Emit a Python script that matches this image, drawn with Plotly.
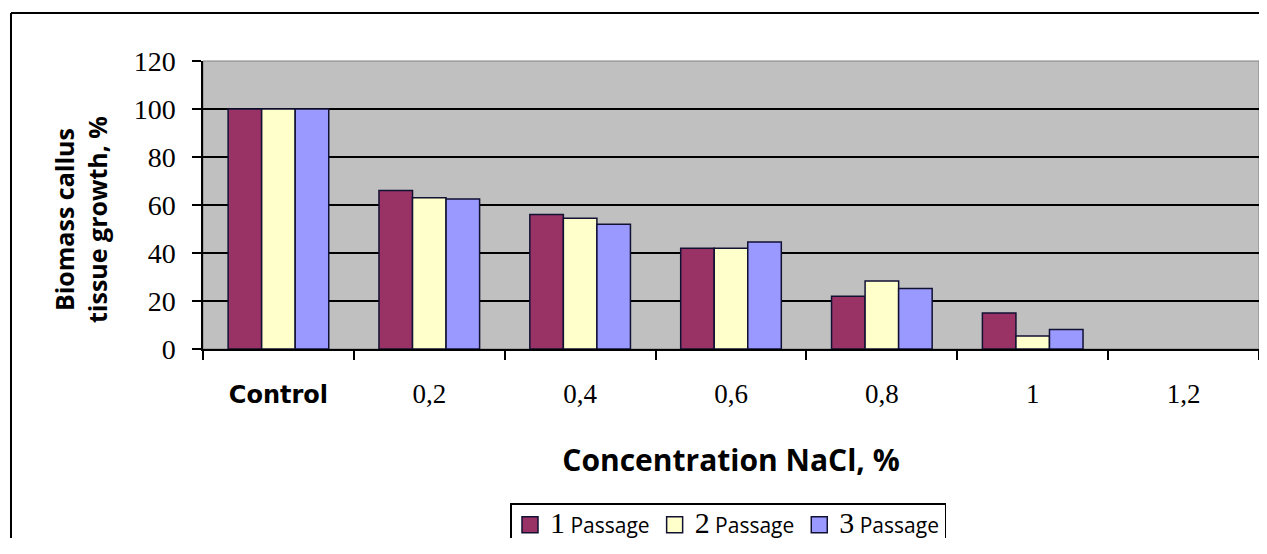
import plotly.graph_objects as go

categories = ["Control", "0,2", "0,4", "0,6", "0,8", "1", "1,2"]
tick_labels = ["<span style=\"font-family:DejaVu Sans;font-size:24px\"><b>Control</b></span>",
               "0,2", "0,4", "0,6", "0,8", "1", "1,2"]
passage1 = [100, 66, 56, 42, 22, 15, None]
passage2 = [100, 63, 54.5, 42, 28.3, 5.4, None]
passage3 = [100, 62.5, 52, 44.6, 25.2, 8.1, None]
series_names = ["1", "2", "3"]
colors = ["#993366", "#FFFFCC", "#9999FF"]
OUTLINE = "#111133"

SERIF = "Liberation Serif"
SANS = "Open Sans"

# figure geometry (the page adds an 8px body margin around the figure)
W, H = 1251, 530
L, T, R = 195, 53, 0
PLOT_BOTTOM = 341
B = H - PLOT_BOTTOM
PW, PH = W - L - R, H - T - B


def px(x):
    return (x - L) / PW


def py(y):
    return (PLOT_BOTTOM - y) / PH


fig = go.Figure()
for name, vals, col in zip(series_names, [passage1, passage2, passage3], colors):
    label = f"<span style=\"font-family:{SERIF};font-size:30px\">{name}</span> Passage"
    fig.add_trace(go.Bar(
        x=categories, y=vals, name=label, legendgroup=name, showlegend=False,
        marker=dict(color=col, line=dict(color=OUTLINE, width=1.5)),
    ))
    # legend entry with a larger square swatch
    fig.add_trace(go.Scatter(
        x=[categories[0]], y=[None], mode="markers", name=label, legendgroup=name,
        marker=dict(symbol="square", size=16, color=col, line=dict(color=OUTLINE, width=1.5)),
        hoverinfo="skip",
    ))

fig.update_layout(
    width=W, height=H,
    margin=dict(l=L, t=T, r=R, b=B, autoexpand=False),
    paper_bgcolor="white",
    plot_bgcolor="#C0C0C0",
    barmode="group", bargap=0.333, bargroupgap=0,
    showlegend=True,
    legend=dict(
        orientation="h", x=px(502), xanchor="left", y=py(495), yanchor="top",
        bordercolor="black", borderwidth=1.5, bgcolor="white",
        font=dict(family=SANS, size=21, color="black"),
        itemwidth=30, tracegroupgap=0, itemsizing="trace",
    ),
    xaxis=dict(
        type="category", categoryorder="array", categoryarray=categories,
        range=[-0.5, 6.5], automargin=False,
        tickvals=categories, ticktext=tick_labels,
        tickson="boundaries", ticks="outside", ticklen=9, tickwidth=1.5, tickcolor="black",
        showline=True, linecolor="black", linewidth=1.5,
        showgrid=False,
        tickfont=dict(family=SERIF, size=27, color="black"),
        ticklabelstandoff=20,
        title=dict(text="<b>Concentration NaCl, %</b>",
                   font=dict(family=SANS, size=30, color="black"), standoff=42),
        fixedrange=True,
    ),
    yaxis=dict(
        range=[0, 120], tickvals=[0, 20, 40, 60, 80, 100, 120], automargin=False,
        ticks="outside", ticklen=9, tickwidth=1.5, tickcolor="black",
        showline=True, linecolor="black", linewidth=1.5,
        showgrid=True, gridcolor="black", gridwidth=1.5,
        zeroline=False,
        tickfont=dict(family=SERIF, size=28, color="black"),
        ticklabelstandoff=11,
        fixedrange=True,
    ),
    annotations=[dict(
        text="<b>Biomass callus<br>tissue growth, %</b>",
        xref="paper", yref="paper", x=px(73), y=py(212),
        xanchor="center", yanchor="middle", textangle=-90, showarrow=False,
        font=dict(family=SANS, size=25, color="black"),
    )],
    shapes=[
        dict(type="rect", xref="paper", yref="paper", x0=0, x1=1, y0=0, y1=1,
             line=dict(color="#808080", width=1), layer="below"),
        dict(type="line", xref="paper", yref="paper",
             x0=px(3), x1=px(W), y0=py(5), y1=py(5),
             line=dict(color="black", width=2), layer="above"),
        dict(type="line", xref="paper", yref="paper",
             x0=px(3), x1=px(3), y0=py(5), y1=py(H),
             line=dict(color="black", width=2), layer="above"),
    ],
)

fig.write_html("out.html")
